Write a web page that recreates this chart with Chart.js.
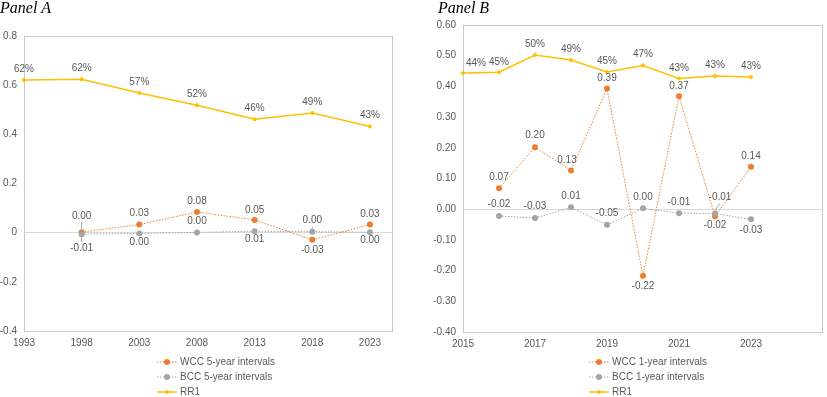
<!DOCTYPE html>
<html>
<head>
<meta charset="utf-8">
<script src="https://cdn.jsdelivr.net/npm/chart.js@4.4.1/dist/chart.umd.min.js"></script>
<style>
    body { margin: 0; background: #fff; }
    #wrap { position: relative; width: 827px; height: 397px; }
    #chartA { position: absolute; left: 0; top: 0; }
    #chartB { position: absolute; left: 410px; top: 0; }
</style>
</head>
<body>
<div id="wrap">
    <canvas id="chartA" width="410" height="397"></canvas>
    <canvas id="chartB" width="417" height="397"></canvas>
</div>
<script>
    // Data-----
    const rrYearsA = [1993, 1998, 2003, 2008, 2013, 2018, 2023];
    const ccYearsA = [1998, 2003, 2008, 2013, 2018, 2023];
    const rr1A = [0.621, 0.624, 0.568, 0.518, 0.461, 0.487, 0.432];
    const wccA = [0.002, 0.033, 0.084, 0.052, -0.029, 0.033];
    const bccA = [-0.006, -0.003, 0.001, 0.006, 0.004, 0.002];
    const xTicksA = [1993, 1998, 2003, 2008, 2013, 2018, 2023];

    const rrYearsB = [2015, 2016, 2017, 2018, 2019, 2020, 2021, 2022, 2023];
    const ccYearsB = [2016, 2017, 2018, 2019, 2020, 2021, 2022, 2023];
    const rr1B = [0.444, 0.446, 0.502, 0.486, 0.447, 0.468, 0.426, 0.434, 0.431];
    const wccB = [0.068, 0.202, 0.126, 0.393, -0.217, 0.368, -0.023, 0.138];
    const bccB = [-0.022, -0.029, 0.006, -0.051, 0.003, -0.013, -0.014, -0.033];
    const xTicksB = [2015, 2017, 2019, 2021, 2023];
    // Data-----

    // label placement (offset from the point, px) -----
    const lblA = {
        rr: {dy: [-11, -11, -11, -11, -11, -11, -11]},
        wcc: {dy: [-16, -11, -11, -10, 10, -10], lead: [1, 0, 0, 0, 0, 0]},
        bcc: {dy: [14, 8.5, -11, 8.5, -11, 8.5], lead: [1, 0, 0, 0, 1, 0]}
    };
    const lblB = {
        rr: {dy: [-10, -10.5, -10.5, -10.5, -10.5, -11, -10, -10.5, -10.5], dx: [13]},
        wcc: {dy: [-11, -11.5, -10, -10, 10, -9.5, 9, -11], dx: [0, 0, -4]},
        bcc: {dy: [-12, -12, -11, -11.5, -11, -11, -16, 11], dx: [0, 0, 0, 0, 0, 0, 5], lead: [0, 0, 0, 0, 0, 0, 1, 0]}
    };

    const ORANGE = '#ED7D31';
    const GREY = '#A5A5A5';
    const GOLD = '#FFC000';
    const TEXT = '#595959';
    const FONT = '"Liberation Sans", Arial, sans-serif';

    const pts = (xs, ys) => xs.map((x, i) => ({x: x, y: ys[i]}));
    const fmt2 = (v) => {
        let s = v.toFixed(2);
        return s === '-0.00' ? '0.00' : s;
    };
    const fmtPct = (v) => Math.round(v * 100) + '%';

    // Plugins-----
    const boxPlugin = {
        id: 'box',
        beforeDatasetsDraw(chart) {
            const a = chart.chartArea;
            const ctx = chart.ctx;
            ctx.save();
            ctx.strokeStyle = '#C9C9C9';
            ctx.lineWidth = 1;
            ctx.strokeRect(Math.round(a.left) + 0.5, Math.round(a.top) + 0.5,
                Math.round(a.right - a.left) - 1, Math.round(a.bottom - a.top));
            ctx.restore();
        }
    };

    const labelPlugin = {
        id: 'pointLabels',
        afterDatasetsDraw(chart, args, opts) {
            const ctx = chart.ctx;
            ctx.save();
            ctx.font = '10px ' + FONT;
            ctx.fillStyle = TEXT;
            ctx.textAlign = 'center';
            ctx.textBaseline = 'middle';
            chart.data.datasets.forEach((ds, di) => {
                const cfg = opts.place[ds.key];
                const meta = chart.getDatasetMeta(di);
                meta.data.forEach((el, i) => {
                    const dy = cfg.dy[i] || 0;
                    const dx = (cfg.dx && cfg.dx[i]) || 0;
                    const tx = el.x + dx;
                    const ty = el.y + dy;
                    if (cfg.lead && cfg.lead[i]) {
                        ctx.strokeStyle = '#A6A6A6';
                        ctx.lineWidth = 1;
                        ctx.beginPath();
                        const s = dy < 0 ? -1 : 1;
                        ctx.moveTo(tx, ty - s * 6);
                        ctx.lineTo(el.x, el.y + s * 3);
                        ctx.stroke();
                    }
                    ctx.fillText(ds.fmt(ds.data[i].y), tx, ty);
                });
            });
            ctx.restore();
        }
    };

    const legendPlugin = {
        id: 'sideLegend',
        afterDraw(chart, args, opts) {
            const ctx = chart.ctx;
            ctx.save();
            ctx.font = '10px ' + FONT;
            ctx.textBaseline = 'middle';
            ctx.textAlign = 'left';
            chart.data.datasets.forEach((ds, i) => {
                const y = opts.y0 + i * 15;
                const x = opts.x;
                ctx.strokeStyle = ds.borderColor;
                ctx.lineWidth = ds.borderWidth;
                ctx.setLineDash(ds.borderDash || []);
                ctx.beginPath();
                ctx.moveTo(x, y);
                ctx.lineTo(x + 20, y);
                ctx.stroke();
                ctx.setLineDash([]);
                ctx.fillStyle = ds.pointBackgroundColor;
                ctx.beginPath();
                ctx.arc(x + 10, y, ds.pointRadius, 0, Math.PI * 2);
                ctx.fill();
                ctx.fillStyle = TEXT;
                ctx.fillText(ds.label, x + 23, y);
            });
            ctx.restore();
        }
    };

    const titlePlugin = {
        id: 'panelTitle',
        afterDraw(chart, args, opts) {
            const ctx = chart.ctx;
            ctx.save();
            ctx.font = 'italic 16px "Liberation Serif", "Times New Roman", serif';
            ctx.fillStyle = '#000';
            ctx.textBaseline = 'alphabetic';
            ctx.fillText(opts.text, opts.x, 13);
            ctx.restore();
        }
    };
    // Plugins-----

    // Config-----
    function makeSets(rrYears, ccYears, rr, wcc, bcc, span) {
        return [{
            key: 'wcc',
            label: 'WCC ' + span + ' intervals',
            data: pts(ccYears, wcc),
            borderColor: ORANGE,
            borderWidth: 1,
            borderDash: [1.5, 1.5],
            pointRadius: 3,
            pointBackgroundColor: ORANGE,
            pointBorderWidth: 0,
            fmt: fmt2,
            order: 3,
            clip: false
        }, {
            key: 'bcc',
            label: 'BCC ' + span + ' intervals',
            data: pts(ccYears, bcc),
            borderColor: GREY,
            borderWidth: 1,
            borderDash: [1.5, 1.5],
            pointRadius: 3,
            pointBackgroundColor: GREY,
            pointBorderWidth: 0,
            fmt: fmt2,
            order: 2,
            clip: false
        }, {
            key: 'rr',
            label: 'RR1',
            data: pts(rrYears, rr),
            borderColor: GOLD,
            borderWidth: 1.5,
            pointRadius: 2,
            pointBackgroundColor: GOLD,
            pointBorderWidth: 0,
            fmt: fmtPct,
            order: 1,
            clip: false
        }];
    }

    function makeConfig(sets, o) {
        return {
            type: 'line',
            data: {datasets: sets},
            options: {
                responsive: false,
                animation: false,
                devicePixelRatio: 1,
                layout: {padding: {left: 0, right: o.padRight, top: o.padTop, bottom: o.padBottom}},
                plugins: {
                    legend: {display: false},
                    tooltip: {enabled: false},
                    pointLabels: {place: o.place},
                    sideLegend: {x: o.legendX, y0: 362},
                    panelTitle: {text: o.title, x: o.titleX}
                },
                scales: {
                    x: {
                        type: 'linear',
                        min: o.xMin,
                        max: o.xMax,
                        afterBuildTicks: (s) => { s.ticks = o.xTicks.map(v => ({value: v})); },
                        afterFit: (s) => { s.height = 26; },
                        grid: {display: false, drawTicks: false, tickLength: 0},
                        border: {display: false},
                        ticks: {
                            color: TEXT,
                            font: {family: FONT, size: 10},
                            padding: 6,
                            maxRotation: 0,
                            autoSkip: false,
                            callback: (v) => String(v)
                        }
                    },
                    y: {
                        min: o.yMin,
                        max: o.yMax,
                        afterFit: (s) => { s.width = o.yWidth; },
                        border: {display: false},
                        grid: {
                            drawTicks: false,
                            color: (c) => Math.abs(c.tick.value) < 1e-9 ? '#D9D9D9' : 'rgba(0,0,0,0)'
                        },
                        ticks: {
                            stepSize: o.yStep,
                            color: TEXT,
                            font: {family: FONT, size: 10},
                            padding: 7,
                            callback: o.yFmt
                        }
                    }
                }
            },
            plugins: [boxPlugin, labelPlugin, legendPlugin, titlePlugin]
        };
    }
    // Config-----

    const chartA = new Chart(document.getElementById('chartA'), makeConfig(
        makeSets(rrYearsA, ccYearsA, rr1A, wccA, bccA, '5-year'), {
            title: 'Panel A', titleX: 0,
            padRight: 17, padTop: 36, padBottom: 40,
            xMin: 1993, xMax: 2025, xTicks: xTicksA,
            yMin: -0.4, yMax: 0.8, yStep: 0.2, yWidth: 24,
            yFmt: (v) => Math.abs(v) < 1e-9 ? '0' : v.toFixed(1),
            place: lblA, legendX: 157
        }));

    const chartB = new Chart(document.getElementById('chartB'), makeConfig(
        makeSets(rrYearsB, ccYearsB, rr1B, wccB, bccB, '1-year'), {
            title: 'Panel B', titleX: 28,
            padRight: 1, padTop: 25, padBottom: 39,
            xMin: 2015, xMax: 2025, xTicks: xTicksB,
            yMin: -0.4, yMax: 0.6, yStep: 0.1, yWidth: 53,
            yFmt: (v) => v.toFixed(2),
            place: lblB, legendX: 179
        }));
</script>
</body>
</html>
